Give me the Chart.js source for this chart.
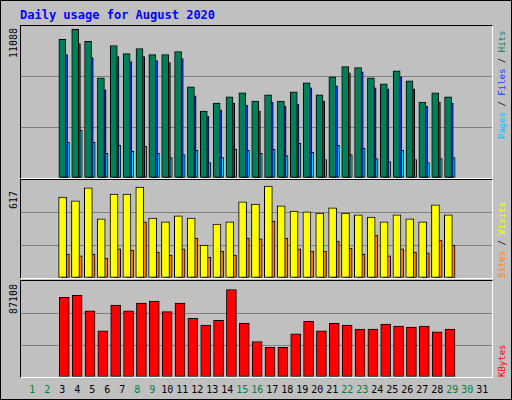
<!DOCTYPE html>
<html><head><meta charset="utf-8">
<script src="https://cdn.jsdelivr.net/npm/chart.js@4/dist/chart.umd.min.js"></script>
<style>
body{margin:0;background:#fff}
#wrap{position:absolute;left:0;top:0;width:510px;height:398px;background:#c0c0c0;border:1px solid #000;overflow:hidden}
.panel{position:absolute;border-top:1px solid #000;border-left:1px solid #000;border-bottom:1px solid #fff;border-right:1px solid #fff}
canvas{position:absolute}
.t{position:absolute;font-family:"DejaVu Sans Mono",monospace;white-space:nowrap;line-height:1}
.rot{transform-origin:0 0;transform:rotate(-90deg)}
</style></head><body>
<div id="wrap"></div>
<script>
const days=[1,2,3,4,5,6,7,8,9,10,11,12,13,14,15,16,17,18,19,20,21,22,23,24,25,26,27,28,29,30,31];
const weekend=[1,2,8,9,15,16,22,23,29,30];
const hits=[10329,11088,10178,7471,9878,9276,9652,9201,9201,9426,6794,4989,5591,6042,6343,5741,6192,5741,6418,7095,6192,7546,8298,8223,7471,7020,7997,7245,5666,6343,6042];
const files=[9201,10028,8975,6568,9050,8674,9050,8749,8599,8900,6117,4613,5064,5591,5440,4989,5666,5365,5515,6719,5741,6869,7847,7922,6719,6644,7546,6644,5365,5666,5591];
const pages=[2657,3560,2657,1830,2432,1981,2357,1830,1529,1755,2056,1153,1529,2131,2056,1830,2131,1680,2582,1905,1379,2432,1755,2206,1454,1228,2056,1379,1153,1454,1529];
const visits=[543,517,604,396,563,563,610,402,376,416,402,221,362,376,510,496,617,483,449,443,436,470,436,423,409,376,423,396,376,490,423];
const sites=[161,148,161,134,195,188,376,174,154,195,268,141,181,154,268,262,382,268,195,181,181,248,201,161,288,148,195,174,168,255,221];
const kbytes=[79456,81370,66054,45950,71798,66054,73712,75627,65096,73712,58395,51694,56481,87108,53609,35420,29676,29676,43079,55523,45950,53609,51694,47865,47865,52652,50737,49779,50737,44993,47865];
const maxLabels=["11088","617","87108"];

const wrap=document.getElementById('wrap');
function el(tag,cls,css,txt){const e=document.createElement(tag);if(cls)e.className=cls;Object.assign(e.style,css);if(txt!==undefined)e.textContent=txt;wrap.appendChild(e);return e;}

el('div','t',{left:'19px',top:'8px',color:'#0000ff',fontWeight:'bold',fontSize:'12px'},'Daily usage for August 2020');

function panel(top,h,yMax,sets){
  el('div','panel',{left:'19px',top:(top-1)+'px',width:'471px',height:h+'px'});
  const c=el('canvas','',{left:'20px',top:top+'px'});
  c.width=471;c.height=h;c.style.width='471px';c.style.height=h+'px';
  new Chart(c,{type:'bar',
    data:{datasets:sets.map(s=>({data:s.v.map((v,i)=>({x:days[i]+s.off,y:v})),backgroundColor:s.c,borderColor:'#000',borderWidth:1,barThickness:s.w,borderSkipped:false,grouped:false}))},
    options:{responsive:false,animation:false,events:[],layout:{padding:0},
      plugins:{legend:{display:false},tooltip:{enabled:false}},
      scales:{
        x:{type:'linear',min:0.4,max:31.8,display:false},
        y:{min:0,max:yMax,border:{display:false},ticks:{display:false},
           afterBuildTicks:a=>{a.ticks=[0,yMax/3,2*yMax/3,yMax].map(v=>({value:v}));},
           grid:{drawTicks:false,lineWidth:1,color:ctx=>(ctx.index===1||ctx.index===2)?'#808080':'rgba(0,0,0,0)'}}}}});
}
panel(25,152,11330,[{v:hits,off:0,c:'#00805a',w:7},{v:files,off:0.133,c:'#0040ff',w:7},{v:pages,off:0.28,c:'#00e0ff',w:7}]);
panel(179,98,657,[{v:visits,off:0.02,c:'#ffff00',w:8},{v:sites,off:0.27,c:'#ff8000',w:7}]);
panel(280,96,95700,[{v:kbytes,off:0.15,c:'#ff0000',w:10}]);

[[57,'11088'],[208,'617'],[313,'87108']].forEach(([y,t])=>el('div','t rot',{left:'8px',top:y+'px',fontSize:'10px',color:'#000'},t));
function rlab(bottom,parts){const d=el('div','t rot',{left:'497px',top:bottom+'px',fontSize:'9px'});parts.forEach(([t,c])=>{const s=document.createElement('span');s.textContent=t;s.style.color=c;d.appendChild(s);});}
rlab(138,[['Pages','#00c0ff'],[' / ','#000'],['Files','#0040ff'],[' / ','#000'],['Hits','#00805a']]);
rlab(277,[['Sites','#ff8000'],[' / ','#000'],['Visits','#ffff00']]);
rlab(376,[['KBytes','#ff0000']]);
days.forEach((d,i)=>el('div','t',{left:(31.3+15*i-10)+'px',width:'20px',textAlign:'center',top:'384px',fontSize:'10px',color:weekend.includes(d)?'#008040':'#000'},String(d)));
</script></body></html>
